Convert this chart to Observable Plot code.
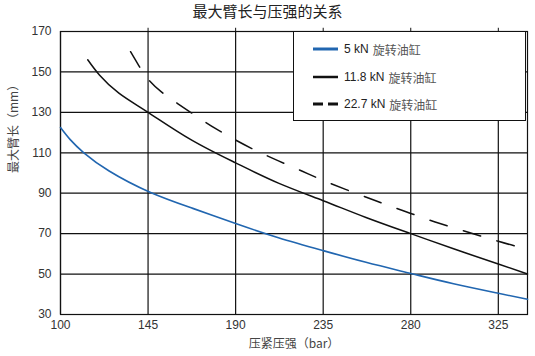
<!DOCTYPE html>
<html>
<head>
<meta charset="utf-8">
<script src="https://cdn.jsdelivr.net/npm/d3@7"></script>
<script src="https://cdn.jsdelivr.net/npm/@observablehq/plot@0.6"></script>
<style>
  html, body { margin: 0; padding: 0; background: #fff; }
  #wrap { position: relative; width: 535px; height: 356px; font-family: "Liberation Sans", Arial, "Noto Sans CJK SC", sans-serif; }
  #title { height: 22px; line-height: 22px; text-align: center; font-size: 15px; color: #222; font-family: "Noto Sans CJK SC", sans-serif; }
  #legend { position: absolute; left: 293px; top: 31px; width: 233px; height: 90px; background: #fff; border: 1px solid #111; box-sizing: border-box; }
  .row { position: absolute; left: 0; height: 16px; display: flex; align-items: center; font-size: 12px; color: #222; }
  .row svg { margin-left: 19px; margin-right: 6px; }
  .cn { font-family: "Noto Sans CJK SC", sans-serif; color: #555; margin-left: 4px; }
</style>
</head>
<body>
<div id="wrap">
  <div id="title">最大臂长与压强的关系</div>
  <div id="chart"></div>
  <div id="legend"></div>
</div>
<script>
// Data
const xTicks = [100, 145, 190, 235, 280, 325];
const yTicks = [30, 50, 70, 90, 110, 130, 150, 170];

const seriesNames = ["5 kN", "11.8 kN", "22.7 kN"];
const seriesSuffix = "旋转油缸";

const p5 = [100, 105, 112, 125, 146, 168, 190, 212, 235, 257, 280, 302, 325, 340];
const v5 = [122.5, 116.5, 110, 101, 90.5, 82.5, 75, 68, 61.6, 55.8, 50.3, 45.2, 40.5, 37.5];

const p118 = [114, 120, 130, 145, 167, 190, 212, 235, 257, 280, 302, 325, 340];
const v118 = [156, 148.5, 139.5, 130, 116.5, 105, 95, 86.3, 78, 70, 62.5, 55, 50];

const p227 = [136, 140, 145, 152, 160, 170, 180, 190, 200, 212, 224, 235, 250, 265, 280, 295, 310, 325, 340];
const v227 = [160, 153.5, 146.5, 140, 134.5, 128, 121.8, 116.3, 111.3, 106, 101, 96.3, 90.6, 85.2, 80, 75, 70.6, 66.2, 62.2];

const blue = "#2166b0";
const toRows = (ps, vs) => ps.map((p, i) => ({p, v: vs[i]}));
const d5 = toRows(p5, v5), d118 = toRows(p118, v118), d227 = toRows(p227, v227);

const chart = Plot.plot({
  width: 535,
  height: 334,
  marginTop: 9,
  marginLeft: 60,
  marginRight: 8,
  marginBottom: 42,
  x: {domain: [100, 340]},
  y: {domain: [30, 170]},
  style: {fontFamily: "'Liberation Sans', Arial, 'Noto Sans CJK SC', sans-serif", fontSize: "12px", color: "#333", background: "#fff", overflow: "visible"},
  marks: [
    Plot.gridX(xTicks, {stroke: "#111", strokeOpacity: 1, strokeWidth: 1.2}),
    Plot.gridY(yTicks, {stroke: "#111", strokeOpacity: 1, strokeWidth: 1.2}),
    Plot.ruleX(xTicks.slice(1), {y1: 170, y2: 171.6, stroke: "#111", clip: false}),
    Plot.frame({stroke: "#111", strokeWidth: 1.2}),
    Plot.axisX(xTicks, {tickSize: 0, tickPadding: 6, label: null, fontSize: 12, fill: "#333"}),
    Plot.axisY(yTicks, {tickSize: 0, tickPadding: 9, label: null, fontSize: 12, fill: "#333"}),
    Plot.line(d5, {x: "p", y: "v", stroke: blue, strokeWidth: 1.6, curve: "natural"}),
    Plot.line(d118, {x: "p", y: "v", stroke: "#111", strokeWidth: 1.5, curve: "natural"}),
    Plot.line(d227, {x: "p", y: "v", stroke: "#111", strokeWidth: 1.5, curve: "natural", strokeDasharray: "18,17"}),
    Plot.text(["压紧压强（bar）"], {frameAnchor: "bottom", dy: 33, fontSize: 12, fill: "#444", fontFamily: "'Noto Sans CJK SC', sans-serif"}),
    Plot.text(["最大臂长（mm）"], {frameAnchor: "left", dx: -46, rotate: -90, fontSize: 12, fill: "#444", fontFamily: "'Noto Sans CJK SC', sans-serif"})
  ]
});
document.getElementById("chart").appendChild(chart);

// Legend
const legend = document.getElementById("legend");
const styles = [
  {stroke: blue, dash: null, width: 3},
  {stroke: "#111", dash: null, width: 2.5},
  {stroke: "#111", dash: "10,5", width: 3}
];
const rowTops = [9, 37, 64];
seriesNames.forEach((name, i) => {
  const row = document.createElement("div");
  row.className = "row";
  row.style.top = rowTops[i] + "px";
  const s = styles[i];
  row.innerHTML = `<svg width="25" height="6"><line x1="0" x2="25" y1="3" y2="3" stroke="${s.stroke}" stroke-width="${s.width}" ${s.dash ? `stroke-dasharray="${s.dash}"` : ""}/></svg><span>${name}</span><span class="cn">${seriesSuffix}</span>`;
  legend.appendChild(row);
});
</script>
</body>
</html>
